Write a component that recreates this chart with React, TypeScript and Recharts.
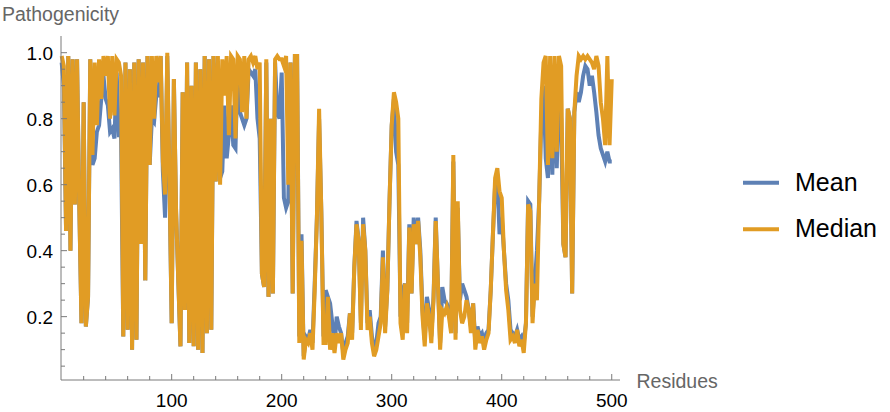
import { LineChart, Line, XAxis, YAxis } from 'recharts';

// pathogenicity per residue, read every 2 residues (0, 2, 4, ... 500)
const meanValues = [
  0.97, 0.90, 0.46, 0.99, 0.40,
  0.98, 0.54, 0.98, 0.54, 0.18,
  0.85, 0.17, 0.26, 0.98, 0.66,
  0.68, 0.76, 0.78, 0.86, 0.93,
  0.86, 0.84, 0.76, 0.77, 0.74,
  0.94, 0.75, 0.75, 0.14, 0.97,
  0.16, 0.95, 0.10, 0.97, 0.13,
  0.98, 0.42, 0.97, 0.31, 0.99,
  0.66, 0.80, 0.79, 0.87, 0.87,
  0.99, 0.64, 0.50, 0.99, 0.60,
  0.18, 0.92, 0.52, 0.31, 0.11,
  0.88, 0.22, 0.97, 0.12, 0.90,
  0.11, 0.97, 0.10, 0.95, 0.09,
  0.99, 0.15, 0.98, 0.16, 0.99,
  0.61, 0.97, 0.62, 0.64, 0.84,
  0.68, 0.75, 0.84, 0.72, 0.71,
  0.96, 0.82, 0.80, 0.78, 0.80,
  0.95, 0.94, 0.93, 0.95, 0.80,
  0.74, 0.33, 0.29, 0.97, 0.26,
  0.80, 0.27, 0.97, 0.82, 0.80,
  0.94, 0.56, 0.53, 0.55, 0.97,
  0.27, 0.99, 0.99, 0.14, 0.45,
  0.08, 0.14, 0.13, 0.16, 0.12,
  0.30, 0.50, 0.80, 0.52, 0.14,
  0.28, 0.26, 0.24, 0.18, 0.11,
  0.20, 0.17, 0.15, 0.09, 0.12,
  0.14, 0.21, 0.15, 0.35, 0.49,
  0.43, 0.18, 0.50, 0.40, 0.18,
  0.22, 0.14, 0.10, 0.12, 0.18,
  0.20, 0.40, 0.17, 0.28, 0.55,
  0.78, 0.86, 0.70, 0.66, 0.20,
  0.28, 0.30, 0.18, 0.48, 0.27,
  0.50, 0.42, 0.50, 0.40, 0.22,
  0.13, 0.26, 0.22, 0.14, 0.26,
  0.50, 0.30, 0.12, 0.29, 0.25,
  0.24, 0.22, 0.16, 0.67, 0.15,
  0.53, 0.25, 0.30, 0.28, 0.26,
  0.22, 0.17, 0.24, 0.12, 0.17,
  0.14, 0.15, 0.12, 0.15, 0.16,
  0.28, 0.45, 0.60, 0.62, 0.45,
  0.50, 0.40, 0.30, 0.25, 0.16,
  0.15, 0.14, 0.16, 0.13, 0.14,
  0.12, 0.18, 0.55, 0.54, 0.20,
  0.30, 0.40, 0.55, 0.80, 0.90,
  0.68, 0.62, 0.90, 0.63, 0.95,
  0.65, 0.88, 0.80, 0.42, 0.38,
  0.83, 0.80, 0.27, 0.82, 0.88,
  0.85, 0.88, 0.93, 0.96, 0.95,
  0.90, 0.93, 0.88, 0.82, 0.75,
  0.71, 0.69, 0.67, 0.70, 0.67,
  0.67,
];

const medianValues = [
  0.99, 0.96, 0.46, 0.99, 0.40,
  0.98, 0.54, 0.98, 0.54, 0.18,
  0.85, 0.17, 0.26, 0.98, 0.69,
  0.97, 0.78, 0.98, 0.86, 0.99,
  0.93, 0.99, 0.80, 0.99, 0.81,
  0.98, 0.97, 0.93, 0.14, 0.97,
  0.16, 0.95, 0.10, 0.97, 0.13,
  0.98, 0.42, 0.97, 0.31, 0.99,
  0.66, 0.99, 0.80, 0.99, 0.91,
  0.99, 0.67, 0.57, 1.00, 0.62,
  0.18, 0.92, 0.52, 0.31, 0.11,
  0.88, 0.22, 0.97, 0.12, 0.90,
  0.11, 0.97, 0.10, 0.95, 0.09,
  0.99, 0.15, 0.98, 0.16, 0.99,
  0.61, 0.99, 0.60, 0.98, 0.87,
  0.99, 0.75, 0.99, 0.98, 0.74,
  0.99, 0.98, 0.82, 0.99, 0.80,
  0.98, 0.99, 0.97, 0.99, 0.95,
  0.97, 0.33, 0.29, 0.98, 0.26,
  0.80, 0.27, 0.98, 0.99, 0.98,
  0.98, 0.96, 0.99, 0.60, 0.97,
  0.27, 0.99, 0.99, 0.12, 0.43,
  0.07, 0.13, 0.12, 0.15, 0.10,
  0.28, 0.50, 0.83, 0.52, 0.12,
  0.12, 0.26, 0.10, 0.15, 0.09,
  0.15, 0.12, 0.15, 0.07, 0.10,
  0.12, 0.21, 0.13, 0.35, 0.48,
  0.43, 0.16, 0.48, 0.40, 0.16,
  0.20, 0.12, 0.08, 0.10, 0.14,
  0.18, 0.38, 0.15, 0.28, 0.55,
  0.78, 0.88, 0.85, 0.80, 0.18,
  0.13, 0.30, 0.15, 0.47, 0.27,
  0.48, 0.42, 0.49, 0.38, 0.20,
  0.11, 0.24, 0.20, 0.12, 0.25,
  0.49, 0.30, 0.10, 0.22, 0.21,
  0.23, 0.20, 0.15, 0.69, 0.13,
  0.55, 0.22, 0.18, 0.20, 0.25,
  0.22, 0.15, 0.24, 0.10, 0.16,
  0.12, 0.14, 0.10, 0.13, 0.15,
  0.28, 0.45, 0.62, 0.65, 0.58,
  0.56, 0.40, 0.28, 0.22, 0.13,
  0.14, 0.12, 0.16, 0.11, 0.13,
  0.09, 0.18, 0.54, 0.52, 0.18,
  0.30, 0.25, 0.55, 0.86, 0.97,
  0.99, 0.66, 0.99, 0.68, 0.99,
  0.70, 0.99, 0.96, 0.42, 0.38,
  0.83, 0.80, 0.27, 0.82, 0.93,
  0.99, 0.98, 0.99, 0.98, 0.99,
  0.98, 0.97, 0.95, 0.99, 0.96,
  0.85, 0.80, 0.72, 0.99, 0.72,
  0.92,
];

const xTicks = [20, 40, 60, 80, 100, 120, 140, 160, 180, 200, 220, 240, 260, 280, 300,
  320, 340, 360, 380, 400, 420, 440, 460, 480, 500];
const xLabels = [100, 200, 300, 400, 500];
const yTicks = [0.05, 0.1, 0.15, 0.2, 0.25, 0.3, 0.35, 0.4, 0.45, 0.5, 0.55, 0.6, 0.65,
  0.7, 0.75, 0.8, 0.85, 0.9, 0.95, 1.0];
const yLabels = [0.2, 0.4, 0.6, 0.8, 1.0];
const seriesNames = ['Mean', 'Median'];

const data = meanValues.map((mean, i) => ({
  residue: i * 2,
  mean,
  median: medianValues[i],
}));

const FONT = '"Liberation Sans", Arial, sans-serif';
const AXIS = '#7a7a7a';
const BLUE = '#5E81B5';
const ORANGE = '#E19C24';

const XTick = ({ x, y, payload }: any) => {
  const major = xLabels.includes(payload.value);
  return (
    <g>
      <line x1={x} x2={x} y1={y} y2={y - (major ? 6 : 4)} stroke={AXIS} />
      {major && (
        <text x={x} y={y + 27} textAnchor="middle" fontSize={19} fontFamily={FONT} fill="#000">
          {payload.value}
        </text>
      )}
    </g>
  );
};

const YTick = ({ x, y, payload }: any) => {
  const major = yLabels.some((v) => Math.abs(v - payload.value) < 1e-6);
  return (
    <g>
      <line x1={x} x2={x + (major ? 6 : 4)} y1={y} y2={y} stroke={AXIS} />
      {major && (
        <text x={x - 8} y={y + 7} textAnchor="end" fontSize={19} fontFamily={FONT} fill="#000">
          {payload.value.toFixed(1)}
        </text>
      )}
    </g>
  );
};

export default function App() {
  return (
    <div style={{ position: 'absolute', left: 0, top: 0, width: 890, height: 412, background: '#fff' }}>
      <LineChart
        width={890}
        height={412}
        data={data}
        margin={{ top: 36, right: 270, bottom: 31, left: 60 }}
      >
        <XAxis
          dataKey="residue"
          type="number"
          domain={[-0.6, 507.5]}
          ticks={xTicks}
          interval={0}
          height={1}
          tickSize={0}
          tickMargin={0}
          tickLine={false}
          axisLine={{ stroke: AXIS }}
          tick={<XTick />}
        />
        <YAxis
          type="number"
          domain={[0.008, 1.0506]}
          ticks={yTicks}
          interval={0}
          width={1}
          tickSize={0}
          tickMargin={0}
          tickLine={false}
          axisLine={{ stroke: AXIS }}
          tick={<YTick />}
          allowDataOverflow
        />
        <Line
          type="linear"
          dataKey="mean"
          name="Mean"
          stroke={BLUE}
          strokeWidth={4}
          dot={false}
          isAnimationActive={false}
        />
        <Line
          type="linear"
          dataKey="median"
          name="Median"
          stroke={ORANGE}
          strokeWidth={4}
          dot={false}
          isAnimationActive={false}
        />
      </LineChart>
      <svg
        width={890}
        height={412}
        style={{ position: 'absolute', left: 0, top: 0, pointerEvents: 'none' }}
      >
        <text x={2} y={21} fontSize={19.5} fontFamily={FONT} fill="#666">
          Pathogenicity
        </text>
        <text x={636.5} y={388} fontSize={19.5} fontFamily={FONT} fill="#666">
          Residues
        </text>
        {seriesNames.map((name, i) => (
          <g key={name}>
            <line
              x1={743}
              x2={779}
              y1={182.7 + i * 46.6}
              y2={182.7 + i * 46.6}
              stroke={i === 0 ? BLUE : ORANGE}
              strokeWidth={4}
            />
            <text x={795} y={190.5 + i * 46.6} fontSize={25} fontFamily={FONT} fill="#000">
              {name}
            </text>
          </g>
        ))}
      </svg>
    </div>
  );
}
